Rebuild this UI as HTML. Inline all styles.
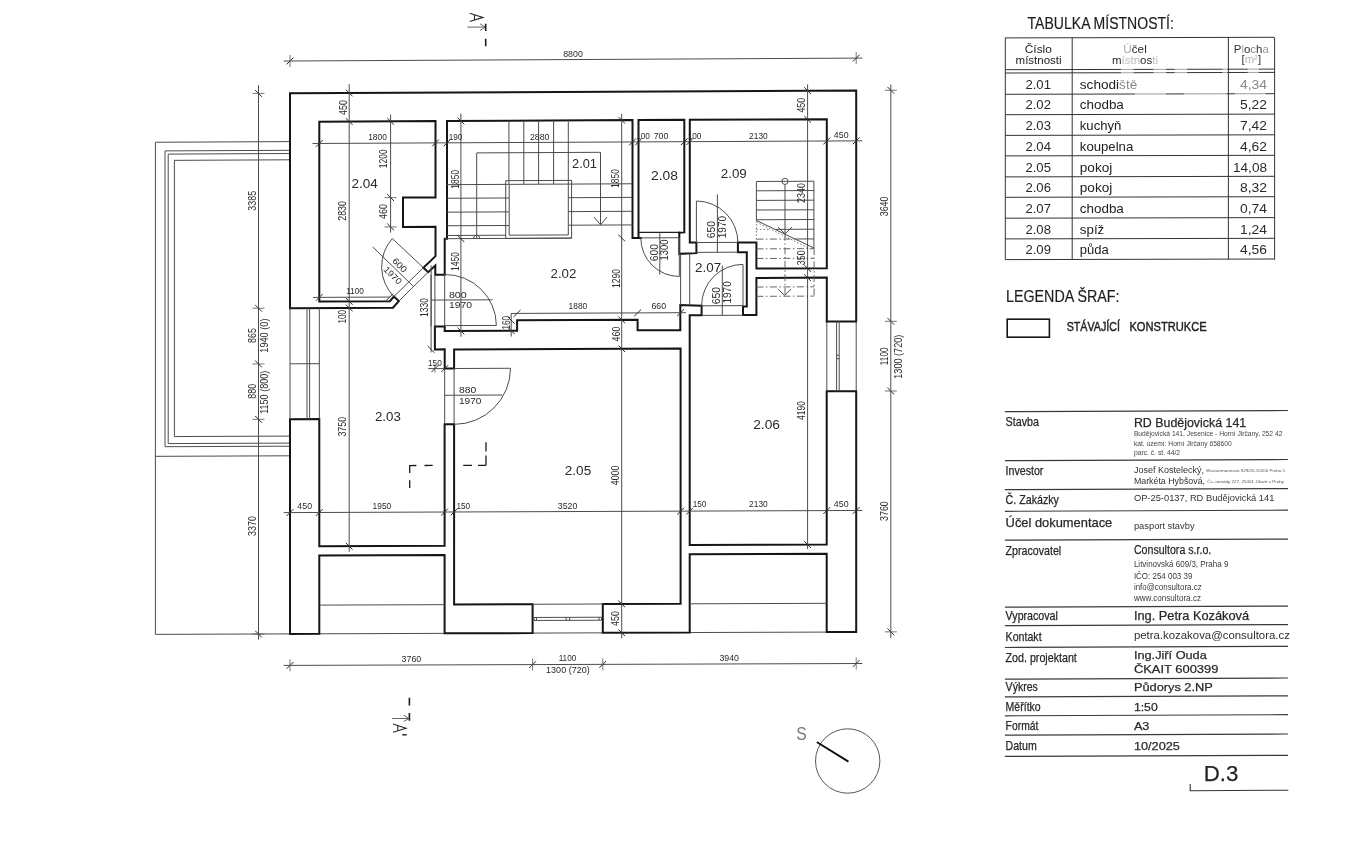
<!DOCTYPE html>
<html><head><meta charset="utf-8"><title>Půdorys 2.NP</title>
<style>
html,body{margin:0;padding:0;background:#fff;}
body{width:1352px;height:850px;overflow:hidden;font-family:"Liberation Sans",sans-serif;}
svg{display:block;filter:grayscale(1);}
svg text{font-family:"Liberation Sans",sans-serif;}
</style></head><body>
<svg width="1352" height="850" viewBox="0 0 1352 850">
<rect x="0" y="0" width="1352" height="850" fill="#ffffff"/>
<g id="plan">
<path d="M290 141.6 L155.4 142.25 L155.4 634.36 L290 633.9" stroke="#4c4c4c" stroke-width="1" fill="none"/>
<path d="M155.4 456.33 L290 455.8" stroke="#4c4c4c" stroke-width="1" fill="none"/>
<path d="M290 150.3 L165 150.9 L165 446.69 L290 446.2" stroke="#4c4c4c" stroke-width="1" fill="none"/>
<path d="M290 153.5 L168.2 154.09 L168.2 443.58 L290 443.1" stroke="#4c4c4c" stroke-width="1" fill="none"/>
<path d="M290 159.8 L174.4 160.35 L174.4 436.56 L290 436.1" stroke="#4c4c4c" stroke-width="1" fill="none"/>
<path d="M319.3 633.8 L444.6 633.37" stroke="#4c4c4c" stroke-width="1" fill="none"/>
<path d="M532.6 633.08 L602.8 632.84" stroke="#4c4c4c" stroke-width="1" fill="none"/>
<path d="M689.7 632.54 L826.7 632.08" stroke="#4c4c4c" stroke-width="1" fill="none"/>
<path d="M290 308.2 L290 93.25 L856.2 90.42 L856.2 321.46 L826.8 321.58" stroke="#151515" stroke-width="2" fill="none" stroke-linejoin="miter" stroke-linecap="square"/>
<path d="M290 308.2 L393 307.75 L398.8 301.12 L393.9 296.54 L389.9 301.16 L319.3 301.47 L319.3 121.66 L435.5 121.09 L435.5 197.42 L403 197.57 L403 226.88 L435.5 226.73 L435.5 256.14 L423.4 267.7 L428.2 272.18 L435.3 265.55 L435.3 274.75 L444.7 274.71 L444.7 238.79 L447 238.78 L447 121.03 L632.5 120.12 L632.5 237.94 L640.8 237.9" stroke="#151515" stroke-width="2" fill="none" stroke-linejoin="miter" stroke-linecap="square"/>
<path d="M638.5 237.91 L638.5 120.09 L684.3 119.86 L684.3 232.39 L679.3 232.62" stroke="#151515" stroke-width="2" fill="none" stroke-linejoin="miter" stroke-linecap="square"/>
<path d="M638.5 232.4 L679.3 232.42" stroke="#222" stroke-width="1.2" fill="none"/>
<path d="M679.3 232.82 L679.3 253.84 L696.4 253.16 L696.4 242.55 L689.8 242.58 L689.8 119.84 L826.8 119.16 L826.8 268.3 L756.4 268.61 L756.4 242.48 L737.9 242.56 L737.9 252.28 L746.8 252.24 L746.8 306.51 L743 306.53 L743 314.94 L756.4 314.88 L756.4 277.93 L826.8 277.61 L826.8 321.58" stroke="#151515" stroke-width="2" fill="none" stroke-linejoin="miter" stroke-linecap="square"/>
<path d="M434.9 326.48 L444.7 326.43 L444.7 331.04 L517.1 330.73 L517.1 320.32 L637.6 319.8 L637.6 330.31 L680.3 330.13 L680.3 305 L701.6 305.8 L701.6 315.22 L689.7 315.27 L689.7 544.94 L826.7 544.44 L826.7 391.3 L856.2 391.17 L856.2 631.98 L826.7 632.08 L826.7 553.65 L689.7 554.15 L689.7 632.54 L602.8 632.84 L602.8 604.01 L680.6 603.74 L680.6 348.45 L454.1 349.4 L454.1 368.51 L444.7 368.55 L444.7 349.34 L434.9 349.39 L434.9 326.48" stroke="#151515" stroke-width="2" fill="none" stroke-linejoin="miter" stroke-linecap="square"/>
<path d="M290 419.2 L319.3 419.08 L319.3 546.29 L444.6 545.83 L444.6 424.18 L454.1 424.14 L454.1 604.53 L532.6 604.26 L532.6 633.08 L444.6 633.37 L444.6 555.04 L319.3 555.49 L319.3 633.8 L290 633.9 L290 419.2" stroke="#151515" stroke-width="2" fill="none" stroke-linejoin="miter" stroke-linecap="square"/>
<path d="M290 308.2 L290 419.2" stroke="#4c4c4c" stroke-width="1" fill="none"/>
<path d="M307 308.13 L307 419.13" stroke="#4c4c4c" stroke-width="1" fill="none"/>
<path d="M309.6 308.11 L309.6 419.12" stroke="#4c4c4c" stroke-width="1" fill="none"/>
<path d="M319.3 308.07 L319.3 419.08" stroke="#4c4c4c" stroke-width="1" fill="none"/>
<path d="M290 363.8 L319.3 363.68" stroke="#4c4c4c" stroke-width="1" fill="none"/>
<path d="M826.8 321.58 L826.8 391.29" stroke="#4c4c4c" stroke-width="1" fill="none"/>
<path d="M836.6 321.54 L836.6 391.25" stroke="#4c4c4c" stroke-width="1" fill="none"/>
<path d="M839.2 321.53 L839.2 391.24" stroke="#4c4c4c" stroke-width="1" fill="none"/>
<path d="M856.2 321.46 L856.2 391.17" stroke="#4c4c4c" stroke-width="1" fill="none"/>
<path d="M836.6 355.2 L839.2 355.19" stroke="#4c4c4c" stroke-width="1" fill="none"/>
<path d="M836.6 358.7 L839.2 358.69" stroke="#4c4c4c" stroke-width="1" fill="none"/>
<path d="M532.6 604.26 L602.8 604.01" stroke="#4c4c4c" stroke-width="1" fill="none"/>
<path d="M534 617.46 L601.5 617.23" stroke="#4c4c4c" stroke-width="1" fill="none"/>
<path d="M534 620.46 L601.5 620.23" stroke="#4c4c4c" stroke-width="1" fill="none"/>
<path d="M534 617.46 L534 620.46" stroke="#4c4c4c" stroke-width="1" fill="none"/>
<path d="M601.5 617.23 L601.5 620.23" stroke="#4c4c4c" stroke-width="1" fill="none"/>
<path d="M566.2 617.35 L566.2 620.35" stroke="#4c4c4c" stroke-width="1" fill="none"/>
<path d="M569.6 617.34 L569.6 620.34" stroke="#4c4c4c" stroke-width="1" fill="none"/>
<path d="M536.5 617.45 L536.5 620.45" stroke="#4c4c4c" stroke-width="1" fill="none"/>
<path d="M599 617.24 L599 620.24" stroke="#4c4c4c" stroke-width="1" fill="none"/>
<path d="M319.3 605.1 L444.6 604.66" stroke="#4c4c4c" stroke-width="1" fill="none"/>
<path d="M689.7 603.81 L826.7 603.33" stroke="#4c4c4c" stroke-width="1" fill="none"/>
<path d="M508.9 120.72 L508.9 184.37" stroke="#4c4c4c" stroke-width="1" fill="none"/>
<path d="M523.8 120.65 L523.8 184.3" stroke="#4c4c4c" stroke-width="1" fill="none"/>
<path d="M538.6 120.58 L538.6 184.23" stroke="#4c4c4c" stroke-width="1" fill="none"/>
<path d="M553.6 120.51 L553.6 184.15" stroke="#4c4c4c" stroke-width="1" fill="none"/>
<path d="M568.3 120.43 L568.3 184.09" stroke="#4c4c4c" stroke-width="1" fill="none"/>
<path d="M447 184.66 L508.9 184.37" stroke="#4c4c4c" stroke-width="1" fill="none"/>
<path d="M568.3 184.09 L632.5 183.78" stroke="#4c4c4c" stroke-width="1" fill="none"/>
<path d="M447 198.26 L508.9 197.97" stroke="#4c4c4c" stroke-width="1" fill="none"/>
<path d="M568.3 197.7 L632.5 197.4" stroke="#4c4c4c" stroke-width="1" fill="none"/>
<path d="M447 212.17 L508.9 211.88" stroke="#4c4c4c" stroke-width="1" fill="none"/>
<path d="M568.3 211.61 L632.5 211.31" stroke="#4c4c4c" stroke-width="1" fill="none"/>
<path d="M447 225.78 L508.9 225.49" stroke="#4c4c4c" stroke-width="1" fill="none"/>
<path d="M568.3 225.22 L632.5 224.92" stroke="#4c4c4c" stroke-width="1" fill="none"/>
<path d="M447 235.48 L505.7 235.21" stroke="#4c4c4c" stroke-width="1" fill="none"/>
<path d="M444.7 238.69 L571.6 238.11" stroke="#4c4c4c" stroke-width="1" fill="none"/>
<path d="M505.7 180.68 L571.6 180.37 L571.6 238.11 L505.7 238.42 Z" stroke="#4c4c4c" stroke-width="1" fill="none"/>
<path d="M509.2 184.36 L568.3 184.09 L568.3 234.93 L509.2 235.2 Z" stroke="#4c4c4c" stroke-width="1" fill="none"/>
<path d="M476.7 238.55 L476.7 152.9 L600.5 152.3 L600.5 224.57" stroke="#4c4c4c" stroke-width="1" fill="none"/>
<path d="M594 217.09 L600.5 224.87 L607 217.03" stroke="#4c4c4c" stroke-width="1" fill="none"/>
<path d="M473.3 238.36 L474.8 235.55 L478.6 235.54 L480 238.33" stroke="#4c4c4c" stroke-width="1" fill="none"/>
<path d="M756.4 181.49 L813.9 181.22" stroke="#4c4c4c" stroke-width="1" fill="none"/>
<path d="M756.4 190.81 L813.9 190.54" stroke="#4c4c4c" stroke-width="1" fill="none"/>
<path d="M756.4 200.42 L813.9 200.15" stroke="#4c4c4c" stroke-width="1" fill="none"/>
<path d="M756.4 210.03 L813.9 209.77" stroke="#4c4c4c" stroke-width="1" fill="none"/>
<path d="M756.4 219.75 L813.9 219.48" stroke="#4c4c4c" stroke-width="1" fill="none"/>
<path d="M756.4 181.49 L756.4 220.45" stroke="#4c4c4c" stroke-width="1" fill="none"/>
<path d="M813.9 181.22 L813.9 248.03" stroke="#4c4c4c" stroke-width="1" fill="none"/>
<path d="M756.4 220.45 L813.9 248.03" stroke="#4c4c4c" stroke-width="1" fill="none"/>
<path d="M775.5 229.37 L813.9 229.2" stroke="#4c4c4c" stroke-width="1" fill="none"/>
<path d="M795.3 239 L813.9 238.91" stroke="#4c4c4c" stroke-width="1" fill="none"/>
<path d="M756.4 229.46 L770 229.4" stroke="#666" stroke-width="0.9" fill="none" stroke-dasharray="1.5 2"/>
<path d="M756.4 239.17 L795 239" stroke="#555" stroke-width="0.9" fill="none" stroke-dasharray="7 2.5 1.5 2.5"/>
<path d="M756.4 248.89 L813.9 248.63" stroke="#555" stroke-width="0.9" fill="none" stroke-dasharray="7 2.5 1.5 2.5"/>
<path d="M756.4 258.5 L813.9 258.24" stroke="#555" stroke-width="0.9" fill="none" stroke-dasharray="7 2.5 1.5 2.5"/>
<path d="M756.4 287.04 L814.1 286.79" stroke="#555" stroke-width="0.9" fill="none" stroke-dasharray="7 2.5 1.5 2.5"/>
<path d="M756.4 296.35 L814.1 296.1" stroke="#555" stroke-width="0.9" fill="none" stroke-dasharray="7 2.5 1.5 2.5"/>
<path d="M756.4 220.45 L756.4 242.48" stroke="#666" stroke-width="0.9" fill="none" stroke-dasharray="1.5 2"/>
<path d="M756.4 222.05 L812 249.84" stroke="#666" stroke-width="0.9" fill="none" stroke-dasharray="1.5 2"/>
<path d="M814.1 248.03 L814.1 296.1" stroke="#555" stroke-width="0.9" fill="none" stroke-dasharray="7 2.5 1.5 2.5"/>
<circle cx="785" cy="181.36" r="3.1" stroke="#444" stroke-width="0.9" fill="none"/>
<path d="M785 184.46 L785 233.24" stroke="#4c4c4c" stroke-width="1" fill="none"/>
<path d="M785 233.74 L785 295.23" stroke="#555" stroke-width="0.9" fill="none" stroke-dasharray="7 2.5 1.5 2.5"/>
<path d="M778 227.06 L785 233.94 L792 226.99" stroke="#4c4c4c" stroke-width="1" fill="none"/>
<path d="M778.2 289.25 L784.6 295.43 L791.1 289.19" stroke="#4c4c4c" stroke-width="1" fill="none"/>
<path d="M393.9 296.54 L423.4 267.7" stroke="#4c4c4c" stroke-width="1" fill="none"/>
<path d="M398.8 301.12 L428.2 272.18" stroke="#4c4c4c" stroke-width="1" fill="none"/>
<path d="M423.4 267.7 L392.3 238.53" stroke="#4c4c4c" stroke-width="1" fill="none"/>
<path d="M392.3 238.53 A42.5 42.5 0 0 0 393.9 296.54" stroke="#4c4c4c" stroke-width="1" fill="none"/>
<path d="M372.6 246.82 L413 286.06" stroke="#4c4c4c" stroke-width="1" fill="none"/>
<text transform="translate(397.5 267.4) rotate(45)" text-anchor="middle" font-size="8.9" fill="#2a2a2a" textLength="16.5" lengthAdjust="spacingAndGlyphs">600</text>
<text transform="translate(390.6 277.5) rotate(45)" text-anchor="middle" font-size="8.9" fill="#2a2a2a" textLength="21.5" lengthAdjust="spacingAndGlyphs">1970</text>
<path d="M431.1 274.77 L431.1 326.49" stroke="#4c4c4c" stroke-width="1" fill="none"/>
<path d="M434.9 274.75 L434.9 326.48" stroke="#4c4c4c" stroke-width="1" fill="none"/>
<path d="M444.7 274.71 L444.7 326.43" stroke="#4c4c4c" stroke-width="1" fill="none"/>
<path d="M444.7 325.63 L496.4 325.41" stroke="#4c4c4c" stroke-width="1" fill="none"/>
<path d="M444.7 274.51 A51.3 51.3 0 0 1 496.4 325.41" stroke="#4c4c4c" stroke-width="1" fill="none"/>
<path d="M431.1 300.08 L492.6 299.81" stroke="#4c4c4c" stroke-width="1" fill="none"/>
<text x="448.9" y="297.5" font-size="8.9" fill="#2a2a2a" textLength="17.8" lengthAdjust="spacingAndGlyphs">800</text>
<text x="448.9" y="307.9" font-size="8.9" fill="#2a2a2a" textLength="23" lengthAdjust="spacingAndGlyphs">1970</text>
<path d="M444.7 368.55 L444.7 424.18" stroke="#4c4c4c" stroke-width="1" fill="none"/>
<path d="M454.1 368.51 L454.1 424.14" stroke="#4c4c4c" stroke-width="1" fill="none"/>
<path d="M454.1 368.51 L510.5 368.28" stroke="#4c4c4c" stroke-width="1" fill="none"/>
<path d="M510.5 368.28 A56.2 56.2 0 0 1 454.1 424.34" stroke="#4c4c4c" stroke-width="1" fill="none"/>
<path d="M444.7 395.27 L502.3 395.03" stroke="#4c4c4c" stroke-width="1" fill="none"/>
<text x="458.9" y="393.1" font-size="8.9" fill="#2a2a2a" textLength="17.3" lengthAdjust="spacingAndGlyphs">880</text>
<text x="458.9" y="403.8" font-size="8.9" fill="#2a2a2a" textLength="22.5" lengthAdjust="spacingAndGlyphs">1970</text>
<path d="M640.8 237.9 L679.3 237.72" stroke="#4c4c4c" stroke-width="1" fill="none"/>
<path d="M679.3 237.72 L679.3 276.27" stroke="#4c4c4c" stroke-width="1" fill="none"/>
<path d="M640.8 238.2 A38.5 38.5 0 0 0 679.3 276.47" stroke="#4c4c4c" stroke-width="1" fill="none"/>
<path d="M659.8 233.11 L659.8 274.55" stroke="#4c4c4c" stroke-width="1" fill="none"/>
<text transform="translate(657.8 252.7) rotate(-90)" text-anchor="middle" font-size="10.4" fill="#2a2a2a" textLength="17.3" lengthAdjust="spacingAndGlyphs">600</text>
<text transform="translate(668.3 250) rotate(-90)" text-anchor="middle" font-size="10.4" fill="#2a2a2a" textLength="21" lengthAdjust="spacingAndGlyphs">1300</text>
<path d="M696.4 242.55 L737.9 242.36" stroke="#4c4c4c" stroke-width="1" fill="none"/>
<path d="M696.4 252.36 L737.9 252.18" stroke="#4c4c4c" stroke-width="1" fill="none"/>
<path d="M696.4 201 L696.4 242.55" stroke="#4c4c4c" stroke-width="1" fill="none"/>
<path d="M696.4 201 A41.5 41.5 0 0 1 737.9 242.36" stroke="#4c4c4c" stroke-width="1" fill="none"/>
<path d="M717.4 194.39 L717.4 252.27" stroke="#4c4c4c" stroke-width="1" fill="none"/>
<text transform="translate(715.1 229.7) rotate(-90)" text-anchor="middle" font-size="10.4" fill="#2a2a2a" textLength="17.3" lengthAdjust="spacingAndGlyphs">650</text>
<text transform="translate(725.8 227.1) rotate(-90)" text-anchor="middle" font-size="10.4" fill="#2a2a2a" textLength="22.3" lengthAdjust="spacingAndGlyphs">1970</text>
<path d="M680.6 253.84 L680.6 305" stroke="#4c4c4c" stroke-width="1" fill="none"/>
<path d="M689.7 253.19 L689.7 305.26" stroke="#4c4c4c" stroke-width="1" fill="none"/>
<path d="M701.6 305.8 L743 305.62" stroke="#4c4c4c" stroke-width="1" fill="none"/>
<path d="M701.6 315.42 L743 315.24" stroke="#4c4c4c" stroke-width="1" fill="none"/>
<path d="M743 264.37 L743 305.62" stroke="#4c4c4c" stroke-width="1" fill="none"/>
<path d="M743 264.37 A41.4 41.4 0 0 0 701.6 305.8" stroke="#4c4c4c" stroke-width="1" fill="none"/>
<path d="M722.3 265.66 L722.3 315.33" stroke="#4c4c4c" stroke-width="1" fill="none"/>
<text transform="translate(720.2 295.6) rotate(-90)" text-anchor="middle" font-size="10.4" fill="#2a2a2a" textLength="17.3" lengthAdjust="spacingAndGlyphs">650</text>
<text transform="translate(731.3 292.4) rotate(-90)" text-anchor="middle" font-size="10.4" fill="#2a2a2a" textLength="22.3" lengthAdjust="spacingAndGlyphs">1970</text>
<path d="M409.7 465.53 L416.4 465.51" stroke="#1a1a1a" stroke-width="1.3" fill="none"/>
<path d="M424.5 465.48 L432.7 465.44" stroke="#1a1a1a" stroke-width="1.3" fill="none"/>
<path d="M409.7 464.93 L409.7 472.94" stroke="#1a1a1a" stroke-width="1.3" fill="none"/>
<path d="M409.7 480.34 L409.7 488.04" stroke="#1a1a1a" stroke-width="1.3" fill="none"/>
<path d="M478 465.37 L486 465.34" stroke="#1a1a1a" stroke-width="1.3" fill="none"/>
<path d="M463.2 465.43 L472 465.39" stroke="#1a1a1a" stroke-width="1.3" fill="none"/>
<path d="M486 455.43 L486 465.34" stroke="#1a1a1a" stroke-width="1.3" fill="none"/>
<path d="M486 442.22 L486 451.43" stroke="#1a1a1a" stroke-width="1.3" fill="none"/>
<path d="M283.7 61.03 L862.3 58.09" stroke="#4c4c4c" stroke-width="1" fill="none"/>
<path d="M286.6 64.4 L293.4 57.6" stroke="#2a2a2a" stroke-width="1" fill="none"/>
<path d="M290 55 L290 67" stroke="#555" stroke-width="0.8" fill="none"/>
<path d="M852.8 61.52 L859.6 54.72" stroke="#2a2a2a" stroke-width="1" fill="none"/>
<path d="M856.2 52.12 L856.2 64.12" stroke="#555" stroke-width="0.8" fill="none"/>
<path d="M312.5 143.49 L862.3 140.83" stroke="#4c4c4c" stroke-width="1" fill="none"/>
<path d="M315.9 146.86 L322.7 140.06" stroke="#2a2a2a" stroke-width="1" fill="none"/>
<path d="M432.1 146.29 L438.9 139.49" stroke="#2a2a2a" stroke-width="1" fill="none"/>
<path d="M443.6 146.24 L450.4 139.44" stroke="#2a2a2a" stroke-width="1" fill="none"/>
<path d="M629.1 145.34 L635.9 138.54" stroke="#2a2a2a" stroke-width="1" fill="none"/>
<path d="M635.1 145.31 L641.9 138.51" stroke="#2a2a2a" stroke-width="1" fill="none"/>
<path d="M680.9 145.09 L687.7 138.29" stroke="#2a2a2a" stroke-width="1" fill="none"/>
<path d="M686.4 145.06 L693.2 138.26" stroke="#2a2a2a" stroke-width="1" fill="none"/>
<path d="M823.4 144.4 L830.2 137.6" stroke="#2a2a2a" stroke-width="1" fill="none"/>
<path d="M852.8 144.26 L859.6 137.46" stroke="#2a2a2a" stroke-width="1" fill="none"/>
<path d="M283.7 512.62 L862.3 510.45" stroke="#4c4c4c" stroke-width="1" fill="none"/>
<path d="M286.6 516 L293.4 509.2" stroke="#2a2a2a" stroke-width="1" fill="none"/>
<path d="M315.9 515.89 L322.7 509.09" stroke="#2a2a2a" stroke-width="1" fill="none"/>
<path d="M441.2 515.42 L448 508.62" stroke="#2a2a2a" stroke-width="1" fill="none"/>
<path d="M450.7 515.38 L457.5 508.58" stroke="#2a2a2a" stroke-width="1" fill="none"/>
<path d="M677.2 514.53 L684 507.73" stroke="#2a2a2a" stroke-width="1" fill="none"/>
<path d="M686.3 514.5 L693.1 507.7" stroke="#2a2a2a" stroke-width="1" fill="none"/>
<path d="M823.3 513.98 L830.1 507.18" stroke="#2a2a2a" stroke-width="1" fill="none"/>
<path d="M852.8 513.87 L859.6 507.07" stroke="#2a2a2a" stroke-width="1" fill="none"/>
<path d="M283.7 665.42 L862.3 663.51" stroke="#4c4c4c" stroke-width="1" fill="none"/>
<path d="M286.6 668.8 L293.4 662" stroke="#2a2a2a" stroke-width="1" fill="none"/>
<path d="M290 659.4 L290 671.4" stroke="#555" stroke-width="0.8" fill="none"/>
<path d="M529.2 668 L536 661.2" stroke="#2a2a2a" stroke-width="1" fill="none"/>
<path d="M532.6 658.6 L532.6 670.6" stroke="#555" stroke-width="0.8" fill="none"/>
<path d="M599.4 667.77 L606.2 660.97" stroke="#2a2a2a" stroke-width="1" fill="none"/>
<path d="M602.8 658.37 L602.8 670.37" stroke="#555" stroke-width="0.8" fill="none"/>
<path d="M852.8 666.93 L859.6 660.13" stroke="#2a2a2a" stroke-width="1" fill="none"/>
<path d="M856.2 657.53 L856.2 669.53" stroke="#555" stroke-width="0.8" fill="none"/>
<path d="M313 297.4 L389.5 297.06" stroke="#4c4c4c" stroke-width="1" fill="none"/>
<path d="M315.9 300.77 L322.7 293.97" stroke="#2a2a2a" stroke-width="1" fill="none"/>
<path d="M386.3 300.46 L393.1 293.66" stroke="#2a2a2a" stroke-width="1" fill="none"/>
<path d="M511.2 313.44 L686 312.68" stroke="#4c4c4c" stroke-width="1" fill="none"/>
<path d="M513.7 316.81 L520.5 310.01" stroke="#2a2a2a" stroke-width="1" fill="none"/>
<path d="M634.2 316.29 L641 309.49" stroke="#2a2a2a" stroke-width="1" fill="none"/>
<path d="M677.2 316.1 L684 309.3" stroke="#2a2a2a" stroke-width="1" fill="none"/>
<path d="M428.2 368.62 L444.7 368.55" stroke="#4c4c4c" stroke-width="1" fill="none"/>
<path d="M431.5 371.99 L438.3 365.19" stroke="#2a2a2a" stroke-width="1" fill="none"/>
<path d="M434.9 364.59 L434.9 372.59" stroke="#555" stroke-width="0.8" fill="none"/>
<path d="M441.3 371.95 L448.1 365.15" stroke="#2a2a2a" stroke-width="1" fill="none"/>
<path d="M258.5 85.16 L258.5 639.61" stroke="#4c4c4c" stroke-width="1" fill="none"/>
<path d="M255.1 90.01 L261.9 96.81" stroke="#2a2a2a" stroke-width="1" fill="none"/>
<path d="M252.5 93.41 L264.5 93.41" stroke="#555" stroke-width="0.8" fill="none"/>
<path d="M255.1 304.84 L261.9 311.64" stroke="#2a2a2a" stroke-width="1" fill="none"/>
<path d="M252.5 308.24 L264.5 308.24" stroke="#555" stroke-width="0.8" fill="none"/>
<path d="M255.1 360.53 L261.9 367.33" stroke="#2a2a2a" stroke-width="1" fill="none"/>
<path d="M252.5 363.93 L264.5 363.93" stroke="#555" stroke-width="0.8" fill="none"/>
<path d="M255.1 415.93 L261.9 422.73" stroke="#2a2a2a" stroke-width="1" fill="none"/>
<path d="M252.5 419.33 L264.5 419.33" stroke="#555" stroke-width="0.8" fill="none"/>
<path d="M255.1 630.61 L261.9 637.41" stroke="#2a2a2a" stroke-width="1" fill="none"/>
<path d="M252.5 634.01 L264.5 634.01" stroke="#555" stroke-width="0.8" fill="none"/>
<path d="M349.2 84.2 L349.2 551.78" stroke="#4c4c4c" stroke-width="1" fill="none"/>
<path d="M345.8 89.55 L352.6 96.35" stroke="#2a2a2a" stroke-width="1" fill="none"/>
<path d="M345.8 118.11 L352.6 124.91" stroke="#2a2a2a" stroke-width="1" fill="none"/>
<path d="M345.8 297.94 L352.6 304.74" stroke="#2a2a2a" stroke-width="1" fill="none"/>
<path d="M345.8 304.54 L352.6 311.34" stroke="#2a2a2a" stroke-width="1" fill="none"/>
<path d="M345.8 542.78 L352.6 549.58" stroke="#2a2a2a" stroke-width="1" fill="none"/>
<path d="M390.6 114.5 L390.6 232.54" stroke="#4c4c4c" stroke-width="1" fill="none"/>
<path d="M387.2 117.91 L394 124.71" stroke="#2a2a2a" stroke-width="1" fill="none"/>
<path d="M387.2 194.23 L394 201.03" stroke="#2a2a2a" stroke-width="1" fill="none"/>
<path d="M384.6 197.63 L396.6 197.63" stroke="#555" stroke-width="0.8" fill="none"/>
<path d="M387.2 223.54 L394 230.34" stroke="#2a2a2a" stroke-width="1" fill="none"/>
<path d="M384.6 226.94 L396.6 226.94" stroke="#555" stroke-width="0.8" fill="none"/>
<path d="M460.9 113.66 L460.9 336.77" stroke="#4c4c4c" stroke-width="1" fill="none"/>
<path d="M457.5 117.56 L464.3 124.36" stroke="#2a2a2a" stroke-width="1" fill="none"/>
<path d="M457.5 235.32 L464.3 242.12" stroke="#2a2a2a" stroke-width="1" fill="none"/>
<path d="M457.5 327.57 L464.3 334.37" stroke="#2a2a2a" stroke-width="1" fill="none"/>
<path d="M621.7 113.86 L621.7 638.38" stroke="#4c4c4c" stroke-width="1" fill="none"/>
<path d="M618.3 116.77 L625.1 123.57" stroke="#2a2a2a" stroke-width="1" fill="none"/>
<path d="M618.3 234.59 L625.1 241.39" stroke="#2a2a2a" stroke-width="1" fill="none"/>
<path d="M618.3 316.47 L625.1 323.27" stroke="#2a2a2a" stroke-width="1" fill="none"/>
<path d="M618.3 345.29 L625.1 352.09" stroke="#2a2a2a" stroke-width="1" fill="none"/>
<path d="M618.3 600.54 L625.1 607.34" stroke="#2a2a2a" stroke-width="1" fill="none"/>
<path d="M618.3 629.37 L625.1 636.17" stroke="#2a2a2a" stroke-width="1" fill="none"/>
<path d="M807.6 84.4 L807.6 549.11" stroke="#4c4c4c" stroke-width="1" fill="none"/>
<path d="M804.2 87.26 L811 94.06" stroke="#2a2a2a" stroke-width="1" fill="none"/>
<path d="M804.2 115.86 L811 122.66" stroke="#2a2a2a" stroke-width="1" fill="none"/>
<path d="M804.2 264.99 L811 271.79" stroke="#2a2a2a" stroke-width="1" fill="none"/>
<path d="M804.2 274.3 L811 281.1" stroke="#2a2a2a" stroke-width="1" fill="none"/>
<path d="M804.2 541.11 L811 547.91" stroke="#2a2a2a" stroke-width="1" fill="none"/>
<path d="M890.8 84.49 L890.8 637.97" stroke="#4c4c4c" stroke-width="1" fill="none"/>
<path d="M887.4 86.85 L894.2 93.65" stroke="#2a2a2a" stroke-width="1" fill="none"/>
<path d="M884.8 90.25 L896.8 90.25" stroke="#555" stroke-width="0.8" fill="none"/>
<path d="M887.4 317.91 L894.2 324.71" stroke="#2a2a2a" stroke-width="1" fill="none"/>
<path d="M884.8 321.31 L896.8 321.31" stroke="#555" stroke-width="0.8" fill="none"/>
<path d="M887.4 387.63 L894.2 394.43" stroke="#2a2a2a" stroke-width="1" fill="none"/>
<path d="M884.8 391.03 L896.8 391.03" stroke="#555" stroke-width="0.8" fill="none"/>
<path d="M887.4 628.46 L894.2 635.26" stroke="#2a2a2a" stroke-width="1" fill="none"/>
<path d="M884.8 631.86 L896.8 631.86" stroke="#555" stroke-width="0.8" fill="none"/>
<path d="M431.1 265.37 L431.1 352.4" stroke="#4c4c4c" stroke-width="1" fill="none"/>
<path d="M427.7 346 L434.5 352.8" stroke="#2a2a2a" stroke-width="1" fill="none"/>
<path d="M511.2 313.44 L511.2 336.55" stroke="#4c4c4c" stroke-width="1" fill="none"/>
<path d="M507.8 316.94 L514.6 323.74" stroke="#2a2a2a" stroke-width="1" fill="none"/>
<path d="M507.8 327.35 L514.6 334.15" stroke="#2a2a2a" stroke-width="1" fill="none"/>
<text x="573" y="57.1" text-anchor="middle" font-size="9" fill="#2a2a2a" textLength="19.6" lengthAdjust="spacingAndGlyphs">8800</text>
<text x="377.5" y="140.4" text-anchor="middle" font-size="9" fill="#2a2a2a" textLength="18.62" lengthAdjust="spacingAndGlyphs">1800</text>
<text x="455.6" y="140.2" text-anchor="middle" font-size="9" fill="#2a2a2a" textLength="13.72" lengthAdjust="spacingAndGlyphs">190</text>
<text x="539.7" y="139.7" text-anchor="middle" font-size="9" fill="#2a2a2a" textLength="19.6" lengthAdjust="spacingAndGlyphs">2880</text>
<text x="643" y="139" text-anchor="middle" font-size="9" fill="#2a2a2a" textLength="13.72" lengthAdjust="spacingAndGlyphs">100</text>
<text x="661" y="139" text-anchor="middle" font-size="9" fill="#2a2a2a" textLength="14.7" lengthAdjust="spacingAndGlyphs">700</text>
<text x="694.5" y="138.9" text-anchor="middle" font-size="9" fill="#2a2a2a" textLength="13.72" lengthAdjust="spacingAndGlyphs">100</text>
<text x="758.4" y="138.6" text-anchor="middle" font-size="9" fill="#2a2a2a" textLength="18.62" lengthAdjust="spacingAndGlyphs">2130</text>
<text x="841.2" y="137.8" text-anchor="middle" font-size="9" fill="#2a2a2a" textLength="14.7" lengthAdjust="spacingAndGlyphs">450</text>
<text x="355" y="294.2" text-anchor="middle" font-size="9" fill="#2a2a2a" textLength="17.64" lengthAdjust="spacingAndGlyphs">1100</text>
<text x="577.9" y="309.3" text-anchor="middle" font-size="9" fill="#2a2a2a" textLength="18.62" lengthAdjust="spacingAndGlyphs">1880</text>
<text x="658.8" y="308.6" text-anchor="middle" font-size="9" fill="#2a2a2a" textLength="14.7" lengthAdjust="spacingAndGlyphs">660</text>
<text x="434.9" y="365.6" text-anchor="middle" font-size="9" fill="#2a2a2a" textLength="13.72" lengthAdjust="spacingAndGlyphs">150</text>
<text x="304.7" y="509.4" text-anchor="middle" font-size="9" fill="#2a2a2a" textLength="14.7" lengthAdjust="spacingAndGlyphs">450</text>
<text x="381.9" y="509.4" text-anchor="middle" font-size="9" fill="#2a2a2a" textLength="18.62" lengthAdjust="spacingAndGlyphs">1950</text>
<text x="463.3" y="509.2" text-anchor="middle" font-size="9" fill="#2a2a2a" textLength="13.72" lengthAdjust="spacingAndGlyphs">150</text>
<text x="567.6" y="508.8" text-anchor="middle" font-size="9" fill="#2a2a2a" textLength="19.6" lengthAdjust="spacingAndGlyphs">3520</text>
<text x="699.6" y="507.4" text-anchor="middle" font-size="9" fill="#2a2a2a" textLength="13.72" lengthAdjust="spacingAndGlyphs">150</text>
<text x="758.4" y="507.2" text-anchor="middle" font-size="9" fill="#2a2a2a" textLength="18.62" lengthAdjust="spacingAndGlyphs">2130</text>
<text x="841.2" y="507.4" text-anchor="middle" font-size="9" fill="#2a2a2a" textLength="14.7" lengthAdjust="spacingAndGlyphs">450</text>
<text x="411.4" y="662.2" text-anchor="middle" font-size="9" fill="#2a2a2a" textLength="19.6" lengthAdjust="spacingAndGlyphs">3760</text>
<text x="567.5" y="661.2" text-anchor="middle" font-size="9" fill="#2a2a2a" textLength="17.64" lengthAdjust="spacingAndGlyphs">1100</text>
<text x="567.9" y="672.6" text-anchor="middle" font-size="9" fill="#2a2a2a" textLength="43.61" lengthAdjust="spacingAndGlyphs">1300 (720)</text>
<text x="729.2" y="660.8" text-anchor="middle" font-size="9" fill="#2a2a2a" textLength="19.6" lengthAdjust="spacingAndGlyphs">3940</text>
<text transform="translate(255.9 200.8) rotate(-90)" text-anchor="middle" font-size="10.1" fill="#2a2a2a" textLength="19.8" lengthAdjust="spacingAndGlyphs">3385</text>
<text transform="translate(255.5 335.6) rotate(-90)" text-anchor="middle" font-size="10.1" fill="#2a2a2a" textLength="14.85" lengthAdjust="spacingAndGlyphs">865</text>
<text transform="translate(267.5 335.6) rotate(-90)" text-anchor="middle" font-size="10.1" fill="#2a2a2a" textLength="34.16" lengthAdjust="spacingAndGlyphs">1940 (0)</text>
<text transform="translate(255.5 391.3) rotate(-90)" text-anchor="middle" font-size="10.1" fill="#2a2a2a" textLength="14.85" lengthAdjust="spacingAndGlyphs">880</text>
<text transform="translate(267.5 392.3) rotate(-90)" text-anchor="middle" font-size="10.1" fill="#2a2a2a" textLength="43.06" lengthAdjust="spacingAndGlyphs">1150 (800)</text>
<text transform="translate(256 526) rotate(-90)" text-anchor="middle" font-size="10.1" fill="#2a2a2a" textLength="19.8" lengthAdjust="spacingAndGlyphs">3370</text>
<text transform="translate(346.5 107.5) rotate(-90)" text-anchor="middle" font-size="10.1" fill="#2a2a2a" textLength="14.85" lengthAdjust="spacingAndGlyphs">450</text>
<text transform="translate(346 210.9) rotate(-90)" text-anchor="middle" font-size="10.1" fill="#2a2a2a" textLength="19.8" lengthAdjust="spacingAndGlyphs">2830</text>
<text transform="translate(387.2 158.8) rotate(-90)" text-anchor="middle" font-size="10.1" fill="#2a2a2a" textLength="18.81" lengthAdjust="spacingAndGlyphs">1200</text>
<text transform="translate(387.4 211.5) rotate(-90)" text-anchor="middle" font-size="10.1" fill="#2a2a2a" textLength="14.85" lengthAdjust="spacingAndGlyphs">460</text>
<text transform="translate(346.1 316.7) rotate(-90)" text-anchor="middle" font-size="10.1" fill="#2a2a2a" textLength="13.86" lengthAdjust="spacingAndGlyphs">100</text>
<text transform="translate(346 426.7) rotate(-90)" text-anchor="middle" font-size="10.1" fill="#2a2a2a" textLength="19.8" lengthAdjust="spacingAndGlyphs">3750</text>
<text transform="translate(458.5 179.3) rotate(-90)" text-anchor="middle" font-size="10.1" fill="#2a2a2a" textLength="18.81" lengthAdjust="spacingAndGlyphs">1850</text>
<text transform="translate(619.4 178.5) rotate(-90)" text-anchor="middle" font-size="10.1" fill="#2a2a2a" textLength="18.81" lengthAdjust="spacingAndGlyphs">1850</text>
<text transform="translate(458.8 261.5) rotate(-90)" text-anchor="middle" font-size="10.1" fill="#2a2a2a" textLength="18.81" lengthAdjust="spacingAndGlyphs">1450</text>
<text transform="translate(428.2 307.5) rotate(-90)" text-anchor="middle" font-size="10.1" fill="#2a2a2a" textLength="18.81" lengthAdjust="spacingAndGlyphs">1330</text>
<text transform="translate(509.7 322.7) rotate(-90)" text-anchor="middle" font-size="10.1" fill="#2a2a2a" textLength="13.86" lengthAdjust="spacingAndGlyphs">160</text>
<text transform="translate(620 278.5) rotate(-90)" text-anchor="middle" font-size="10.1" fill="#2a2a2a" textLength="18.81" lengthAdjust="spacingAndGlyphs">1290</text>
<text transform="translate(620 334.1) rotate(-90)" text-anchor="middle" font-size="10.1" fill="#2a2a2a" textLength="14.85" lengthAdjust="spacingAndGlyphs">460</text>
<text transform="translate(619 475.4) rotate(-90)" text-anchor="middle" font-size="10.1" fill="#2a2a2a" textLength="19.8" lengthAdjust="spacingAndGlyphs">4000</text>
<text transform="translate(619.4 618.5) rotate(-90)" text-anchor="middle" font-size="10.1" fill="#2a2a2a" textLength="14.85" lengthAdjust="spacingAndGlyphs">450</text>
<text transform="translate(805.2 105.2) rotate(-90)" text-anchor="middle" font-size="10.1" fill="#2a2a2a" textLength="14.85" lengthAdjust="spacingAndGlyphs">450</text>
<text transform="translate(805.3 193) rotate(-90)" text-anchor="middle" font-size="10.1" fill="#2a2a2a" textLength="19.8" lengthAdjust="spacingAndGlyphs">2340</text>
<text transform="translate(805.2 257.8) rotate(-90)" text-anchor="middle" font-size="10.1" fill="#2a2a2a" textLength="14.85" lengthAdjust="spacingAndGlyphs">350</text>
<text transform="translate(804.8 410.5) rotate(-90)" text-anchor="middle" font-size="10.1" fill="#2a2a2a" textLength="18.81" lengthAdjust="spacingAndGlyphs">4190</text>
<text transform="translate(888.2 206.4) rotate(-90)" text-anchor="middle" font-size="10.1" fill="#2a2a2a" textLength="19.8" lengthAdjust="spacingAndGlyphs">3640</text>
<text transform="translate(888.2 356.3) rotate(-90)" text-anchor="middle" font-size="10.1" fill="#2a2a2a" textLength="17.82" lengthAdjust="spacingAndGlyphs">1100</text>
<text transform="translate(901.6 356.7) rotate(-90)" text-anchor="middle" font-size="10.1" fill="#2a2a2a" textLength="44.05" lengthAdjust="spacingAndGlyphs">1300 (720)</text>
<text transform="translate(888.3 511.1) rotate(-90)" text-anchor="middle" font-size="10.1" fill="#2a2a2a" textLength="19.8" lengthAdjust="spacingAndGlyphs">3760</text>
<text x="351.5" y="187.7" font-size="12.3" fill="#2a2a2a" textLength="26.3" lengthAdjust="spacingAndGlyphs">2.04</text>
<text x="572" y="168.2" font-size="12.3" fill="#2a2a2a" textLength="25" lengthAdjust="spacingAndGlyphs">2.01</text>
<text x="651" y="179.6" font-size="12.3" fill="#2a2a2a" textLength="27" lengthAdjust="spacingAndGlyphs">2.08</text>
<text x="720.8" y="178.1" font-size="12.3" fill="#2a2a2a" textLength="26" lengthAdjust="spacingAndGlyphs">2.09</text>
<text x="550.5" y="278.2" font-size="12.3" fill="#2a2a2a" textLength="25.9" lengthAdjust="spacingAndGlyphs">2.02</text>
<text x="695.1" y="271.8" font-size="12.3" fill="#2a2a2a" textLength="26" lengthAdjust="spacingAndGlyphs">2.07</text>
<text x="374.9" y="421.2" font-size="12.3" fill="#2a2a2a" textLength="25.9" lengthAdjust="spacingAndGlyphs">2.03</text>
<text x="564.8" y="475.2" font-size="12.3" fill="#2a2a2a" textLength="26.4" lengthAdjust="spacingAndGlyphs">2.05</text>
<text x="753.2" y="428.8" font-size="12.3" fill="#2a2a2a" textLength="26.8" lengthAdjust="spacingAndGlyphs">2.06</text>
<g stroke="#2a2a2a" fill="none">
<path d="M469.7 13.3 L483 17.4 L469.7 21.5 M474.5 14.8 L474.5 20" stroke-width="1.1"/>
<path d="M467.4 27.1 L485.2 27.1 M480 23.8 L485.2 27.1 L480 30.4" stroke-width="0.9" stroke="#555"/>
<path d="M485.7 23.7 L485.7 31.1 M485.7 38.8 L485.7 46.3" stroke-width="1.6" stroke="#1a1a1a"/>
<path d="M409.4 697.7 L409.4 705.6 M409.4 713 L409.4 720.7" stroke-width="1.6" stroke="#1a1a1a"/>
<path d="M391.9 718.5 L408.9 718.5 M403.7 715.2 L408.9 718.5 L403.7 721.5" stroke-width="0.9" stroke="#555"/>
<path d="M393.1 724.1 L406 728.2 L393.1 732.3 M397.8 725.6 L397.8 730.8" stroke-width="1.1"/>
<path d="M402.3 734.8 L406.7 734.8" stroke-width="1.4" stroke="#1a1a1a"/>
</g>
<circle cx="847.7" cy="761" r="32.2" stroke="#444" stroke-width="0.9" fill="none"/>
<path d="M847.7 761.2 L817.5 742.5" stroke="#111" stroke-width="2" stroke-linecap="round"/>
<text x="796.2" y="739.7" font-size="18" fill="#777" textLength="10.5" lengthAdjust="spacingAndGlyphs">S</text>
</g>
<g id="panel">
<text x="1027.6" y="28.9" font-size="16.2" fill="#1c1c1c" textLength="146.3" lengthAdjust="spacingAndGlyphs" stroke="#333" stroke-width="0.2">TABULKA MÍSTNOSTÍ:</text>
<path d="M1005.3 37.9 L1274.6 37.3" stroke="#333" stroke-width="1" fill="none"/>
<path d="M1005.3 69.7 L1274.6 69.1" stroke="#333" stroke-width="1" fill="none"/>
<path d="M1005.3 73 L1274.6 72.4" stroke="#333" stroke-width="1" fill="none"/>
<path d="M1005.3 94.3 L1274.6 93.7" stroke="#333" stroke-width="1" fill="none"/>
<path d="M1005.3 114.7 L1274.6 114.1" stroke="#333" stroke-width="1" fill="none"/>
<path d="M1005.3 135.4 L1274.6 134.8" stroke="#333" stroke-width="1" fill="none"/>
<path d="M1005.3 155.9 L1274.6 155.3" stroke="#333" stroke-width="1" fill="none"/>
<path d="M1005.3 176.9 L1274.6 176.3" stroke="#333" stroke-width="1" fill="none"/>
<path d="M1005.3 197.3 L1274.6 196.7" stroke="#333" stroke-width="1" fill="none"/>
<path d="M1005.3 218.2 L1274.6 217.6" stroke="#333" stroke-width="1" fill="none"/>
<path d="M1005.3 238.9 L1274.6 238.3" stroke="#333" stroke-width="1" fill="none"/>
<path d="M1005.3 259.6 L1274.6 259" stroke="#333" stroke-width="1" fill="none"/>
<path d="M1005.3 37.6 L1005.3 259.6" stroke="#333" stroke-width="1" fill="none"/>
<path d="M1072.2 37.6 L1072.2 259.6" stroke="#333" stroke-width="1" fill="none"/>
<path d="M1228.4 37.6 L1228.4 259.6" stroke="#333" stroke-width="1" fill="none"/>
<path d="M1274.6 37.6 L1274.6 259.6" stroke="#333" stroke-width="1" fill="none"/>
<text x="1038.3" y="53.4" text-anchor="middle" font-size="11" fill="#222" textLength="27" lengthAdjust="spacingAndGlyphs">Číslo</text>
<text x="1038.6" y="63.5" text-anchor="middle" font-size="11" fill="#222" textLength="46" lengthAdjust="spacingAndGlyphs">místnosti</text>
<text x="1135" y="53.4" text-anchor="middle" font-size="11" fill="#2a2a2a" textLength="23.5" lengthAdjust="spacingAndGlyphs"><tspan fill="#aaa">Ú</tspan>čel</text>
<text x="1135" y="63.5" text-anchor="middle" font-size="11" fill="#2a2a2a" textLength="46" lengthAdjust="spacingAndGlyphs">m<tspan fill="#bbb">ístn</tspan>os<tspan fill="#bbb">ti</tspan></text>
<text x="1251.3" y="53" text-anchor="middle" font-size="11" fill="#333" textLength="35" lengthAdjust="spacingAndGlyphs">P<tspan fill="#aaa">l</tspan>o<tspan fill="#888">c</tspan>h<tspan fill="#999">a</tspan></text>
<text x="1251.3" y="63.3" text-anchor="middle" font-size="11" fill="#333" textLength="19.5" lengthAdjust="spacingAndGlyphs">[<tspan fill="#b5b5b5">m²</tspan>]</text>
<text x="1038.2" y="89" text-anchor="middle" font-size="12.4" fill="#2a2a2a" textLength="25.5" lengthAdjust="spacingAndGlyphs">2.01</text>
<text x="1079.8" y="89" font-size="12.2" fill="#222" textLength="57.5" lengthAdjust="spacingAndGlyphs">schodi<tspan fill="#8a8a8a">ště</tspan></text>
<text x="1267" y="89" text-anchor="end" font-size="12.4" fill="#888" textLength="27" lengthAdjust="spacingAndGlyphs">4,34</text>
<text x="1038.2" y="109.4" text-anchor="middle" font-size="12.4" fill="#2a2a2a" textLength="25.5" lengthAdjust="spacingAndGlyphs">2.02</text>
<text x="1079.8" y="109.4" font-size="12.2" fill="#222" textLength="44" lengthAdjust="spacingAndGlyphs">chodba</text>
<text x="1267" y="109.4" text-anchor="end" font-size="12.4" fill="#2a2a2a" textLength="27" lengthAdjust="spacingAndGlyphs">5,22</text>
<text x="1038.2" y="130.1" text-anchor="middle" font-size="12.4" fill="#2a2a2a" textLength="25.5" lengthAdjust="spacingAndGlyphs">2.03</text>
<text x="1079.8" y="130.1" font-size="12.2" fill="#222" textLength="41.5" lengthAdjust="spacingAndGlyphs">kuchyň</text>
<text x="1267" y="130.1" text-anchor="end" font-size="12.4" fill="#2a2a2a" textLength="27" lengthAdjust="spacingAndGlyphs">7,42</text>
<text x="1038.2" y="150.6" text-anchor="middle" font-size="12.4" fill="#2a2a2a" textLength="25.5" lengthAdjust="spacingAndGlyphs">2.04</text>
<text x="1079.8" y="150.6" font-size="12.2" fill="#222" textLength="53.5" lengthAdjust="spacingAndGlyphs">koupelna</text>
<text x="1267" y="150.6" text-anchor="end" font-size="12.4" fill="#2a2a2a" textLength="27" lengthAdjust="spacingAndGlyphs">4,62</text>
<text x="1038.2" y="171.6" text-anchor="middle" font-size="12.4" fill="#2a2a2a" textLength="25.5" lengthAdjust="spacingAndGlyphs">2.05</text>
<text x="1079.8" y="171.6" font-size="12.2" fill="#222" textLength="32.5" lengthAdjust="spacingAndGlyphs">pokoj</text>
<text x="1267" y="171.6" text-anchor="end" font-size="12.4" fill="#2a2a2a" textLength="34" lengthAdjust="spacingAndGlyphs">14,08</text>
<text x="1038.2" y="192" text-anchor="middle" font-size="12.4" fill="#2a2a2a" textLength="25.5" lengthAdjust="spacingAndGlyphs">2.06</text>
<text x="1079.8" y="192" font-size="12.2" fill="#222" textLength="32.5" lengthAdjust="spacingAndGlyphs">pokoj</text>
<text x="1267" y="192" text-anchor="end" font-size="12.4" fill="#2a2a2a" textLength="27" lengthAdjust="spacingAndGlyphs">8,32</text>
<text x="1038.2" y="212.9" text-anchor="middle" font-size="12.4" fill="#2a2a2a" textLength="25.5" lengthAdjust="spacingAndGlyphs">2.07</text>
<text x="1079.8" y="212.9" font-size="12.2" fill="#222" textLength="44" lengthAdjust="spacingAndGlyphs">chodba</text>
<text x="1267" y="212.9" text-anchor="end" font-size="12.4" fill="#2a2a2a" textLength="27" lengthAdjust="spacingAndGlyphs">0,74</text>
<text x="1038.2" y="233.6" text-anchor="middle" font-size="12.4" fill="#2a2a2a" textLength="25.5" lengthAdjust="spacingAndGlyphs">2.08</text>
<text x="1079.8" y="233.6" font-size="12.2" fill="#222" textLength="24.5" lengthAdjust="spacingAndGlyphs">spíž</text>
<text x="1267" y="233.6" text-anchor="end" font-size="12.4" fill="#2a2a2a" textLength="27" lengthAdjust="spacingAndGlyphs">1,24</text>
<text x="1038.2" y="254.3" text-anchor="middle" font-size="12.4" fill="#2a2a2a" textLength="25.5" lengthAdjust="spacingAndGlyphs">2.09</text>
<text x="1079.8" y="254.3" font-size="12.2" fill="#222" textLength="29" lengthAdjust="spacingAndGlyphs">půda</text>
<text x="1267" y="254.3" text-anchor="end" font-size="12.4" fill="#2a2a2a" textLength="27" lengthAdjust="spacingAndGlyphs">4,56</text>
<rect x="1121" y="68" width="12.7" height="6.5" fill="#fff" opacity="0.55"/>
<rect x="1153.4" y="68" width="12.6" height="6.5" fill="#fff" opacity="0.55"/>
<rect x="1174.5" y="68" width="12.6" height="6.5" fill="#fff" opacity="0.55"/>
<rect x="1222.3" y="68" width="5.1" height="6.5" fill="#fff" opacity="0.55"/>
<rect x="1247.6" y="68" width="11.2" height="6.5" fill="#fff" opacity="0.55"/>
<rect x="1135" y="92.5" width="31" height="3" fill="#fff" opacity="0.5"/>
<rect x="1184" y="92.5" width="42.5" height="3" fill="#fff" opacity="0.5"/>
<rect x="1235" y="92.5" width="30.8" height="3" fill="#fff" opacity="0.5"/>
<text x="1006" y="301.6" font-size="16.2" fill="#1c1c1c" textLength="113.4" lengthAdjust="spacingAndGlyphs" stroke="#333" stroke-width="0.2">LEGENDA ŠRAF:</text>
<rect x="1007.2" y="319.2" width="42.2" height="18" stroke="#151515" stroke-width="1.6" fill="none"/>
<text x="1066.7" y="331.3" font-size="12.2" fill="#1c1c1c" textLength="53.2" lengthAdjust="spacingAndGlyphs" stroke="#222" stroke-width="0.4">STÁVAJÍCÍ</text>
<text x="1129.4" y="331.3" font-size="12.2" fill="#1c1c1c" textLength="77.4" lengthAdjust="spacingAndGlyphs" stroke="#222" stroke-width="0.4">KONSTRUKCE</text>
<path d="M1004.9 411.6 L1288 410.5" stroke="#3a3a3a" stroke-width="1.2" fill="none"/>
<path d="M1004.9 460.6 L1288 459.5" stroke="#3a3a3a" stroke-width="1.2" fill="none"/>
<path d="M1004.9 489.7 L1288 488.6" stroke="#3a3a3a" stroke-width="1.2" fill="none"/>
<path d="M1004.9 511.3 L1288 510.2" stroke="#3a3a3a" stroke-width="1.2" fill="none"/>
<path d="M1004.9 540.2 L1288 539.1" stroke="#3a3a3a" stroke-width="1.2" fill="none"/>
<path d="M1004.9 607.2 L1288 606.1" stroke="#3a3a3a" stroke-width="1.2" fill="none"/>
<path d="M1004.9 625.7 L1288 624.6" stroke="#3a3a3a" stroke-width="1.2" fill="none"/>
<path d="M1004.9 647.5 L1288 646.4" stroke="#3a3a3a" stroke-width="1.2" fill="none"/>
<path d="M1004.9 679.1 L1288 678" stroke="#3a3a3a" stroke-width="1.2" fill="none"/>
<path d="M1004.9 696.9 L1288 695.8" stroke="#3a3a3a" stroke-width="1.2" fill="none"/>
<path d="M1004.9 715.8 L1288 714.7" stroke="#3a3a3a" stroke-width="1.2" fill="none"/>
<path d="M1004.9 735.1 L1288 734" stroke="#3a3a3a" stroke-width="1.2" fill="none"/>
<path d="M1004.9 756.4 L1288 755.3" stroke="#3a3a3a" stroke-width="1.2" fill="none"/>
<text x="1005.6" y="426" font-size="12.1" fill="#222" textLength="33.4" lengthAdjust="spacingAndGlyphs" stroke="#333" stroke-width="0.25">Stavba</text>
<text x="1005.6" y="474.9" font-size="12.1" fill="#222" textLength="37.8" lengthAdjust="spacingAndGlyphs" stroke="#333" stroke-width="0.25">Investor</text>
<text x="1005.6" y="504.2" font-size="12.1" fill="#222" textLength="53.3" lengthAdjust="spacingAndGlyphs" stroke="#333" stroke-width="0.25">Č. Zakázky</text>
<text x="1005.6" y="527" font-size="12.8" fill="#222" textLength="106.7" lengthAdjust="spacingAndGlyphs" stroke="#333" stroke-width="0.25">Účel dokumentace</text>
<text x="1005.6" y="554.5" font-size="12.1" fill="#222" textLength="55.6" lengthAdjust="spacingAndGlyphs" stroke="#333" stroke-width="0.25">Zpracovatel</text>
<text x="1005.6" y="620.4" font-size="12.1" fill="#222" textLength="52.3" lengthAdjust="spacingAndGlyphs" stroke="#333" stroke-width="0.25">Vypracoval</text>
<text x="1005.6" y="641.1" font-size="12.1" fill="#222" textLength="36" lengthAdjust="spacingAndGlyphs" stroke="#333" stroke-width="0.25">Kontakt</text>
<text x="1005.6" y="661.6" font-size="12.1" fill="#222" textLength="71.2" lengthAdjust="spacingAndGlyphs" stroke="#333" stroke-width="0.25">Zod. projektant</text>
<text x="1005.6" y="690.5" font-size="12.1" fill="#222" textLength="32.3" lengthAdjust="spacingAndGlyphs" stroke="#333" stroke-width="0.25">Výkres</text>
<text x="1005.6" y="710.5" font-size="12.1" fill="#222" textLength="35.1" lengthAdjust="spacingAndGlyphs" stroke="#333" stroke-width="0.25">Měřítko</text>
<text x="1005.6" y="729.6" font-size="12.1" fill="#222" textLength="32.9" lengthAdjust="spacingAndGlyphs" stroke="#333" stroke-width="0.25">Formát</text>
<text x="1005.6" y="750.1" font-size="12.1" fill="#222" textLength="31.1" lengthAdjust="spacingAndGlyphs" stroke="#333" stroke-width="0.25">Datum</text>
<text x="1133.9" y="426.5" font-size="12.3" fill="#262626" textLength="112.3" lengthAdjust="spacingAndGlyphs" stroke="#333" stroke-width="0.25">RD Budějovická 141</text>
<text x="1133.9" y="436.3" font-size="8" fill="#444" textLength="148.5" lengthAdjust="spacingAndGlyphs">Budějovická 141, Jesenice - Horní Jirčany, 252 42</text>
<text x="1133.9" y="445.9" font-size="8" fill="#444" textLength="97.8" lengthAdjust="spacingAndGlyphs">kat. území: Horní Jirčany 658600</text>
<text x="1133.9" y="455.4" font-size="8" fill="#444" textLength="46.2" lengthAdjust="spacingAndGlyphs">parc. č. st. 44/2</text>
<text x="1133.9" y="473.2" font-size="9.6" fill="#333" textLength="70" lengthAdjust="spacingAndGlyphs">Josef Kostelecký,</text>
<text x="1206.1" y="472.4" font-size="4.3" fill="#555" textLength="79" lengthAdjust="spacingAndGlyphs">Wassermannova 929/20,15200 Praha 5</text>
<text x="1133.9" y="483.7" font-size="9.6" fill="#333" textLength="71.1" lengthAdjust="spacingAndGlyphs">Markéta Hybšová,</text>
<text x="1207.2" y="482.9" font-size="4.3" fill="#555" textLength="76.8" lengthAdjust="spacingAndGlyphs">Čs. armády 227, 25401 Jílové u Prahy</text>
<text x="1133.9" y="500.8" font-size="9.6" fill="#333" textLength="140.5" lengthAdjust="spacingAndGlyphs">OP-25-0137, RD Budějovická 141</text>
<text x="1133.9" y="528.8" font-size="9.3" fill="#333" textLength="60.7" lengthAdjust="spacingAndGlyphs">pasport stavby</text>
<text x="1133.9" y="554.4" font-size="12.3" fill="#262626" textLength="77.4" lengthAdjust="spacingAndGlyphs" stroke="#333" stroke-width="0.25">Consultora s.r.o.</text>
<text x="1133.9" y="567.1" font-size="9.4" fill="#3a3a3a" textLength="94.5" lengthAdjust="spacingAndGlyphs">Litvinovská 609/3, Praha 9</text>
<text x="1133.9" y="578.9" font-size="9.4" fill="#3a3a3a" textLength="58.5" lengthAdjust="spacingAndGlyphs">IČO: 254 003 39</text>
<text x="1133.9" y="589.9" font-size="9.4" fill="#3a3a3a" textLength="67.8" lengthAdjust="spacingAndGlyphs">info@consultora.cz</text>
<text x="1133.9" y="601.4" font-size="9.4" fill="#3a3a3a" textLength="67.1" lengthAdjust="spacingAndGlyphs">www.consultora.cz</text>
<text x="1133.9" y="619.7" font-size="12.08" fill="#262626" textLength="115.2" lengthAdjust="spacingAndGlyphs" stroke="#333" stroke-width="0.25">Ing. Petra Kozáková</text>
<text x="1133.9" y="638.8" font-size="10" fill="#2e2e2e" textLength="156" lengthAdjust="spacingAndGlyphs">petra.kozakova@consultora.cz</text>
<text x="1133.9" y="659.3" font-size="11.45" fill="#262626" textLength="72.9" lengthAdjust="spacingAndGlyphs" stroke="#333" stroke-width="0.25">Ing.Jiří Ouda</text>
<text x="1133.9" y="672.6" font-size="11.45" fill="#262626" textLength="84.5" lengthAdjust="spacingAndGlyphs" stroke="#333" stroke-width="0.25">ČKAIT 600399</text>
<text x="1133.9" y="691" font-size="11.45" fill="#262626" textLength="78.9" lengthAdjust="spacingAndGlyphs" stroke="#333" stroke-width="0.25">Půdorys 2.NP</text>
<text x="1133.9" y="710.8" font-size="11.45" fill="#262626" textLength="23.8" lengthAdjust="spacingAndGlyphs" stroke="#333" stroke-width="0.25">1:50</text>
<text x="1133.9" y="729.5" font-size="11.45" fill="#262626" textLength="15.5" lengthAdjust="spacingAndGlyphs" stroke="#333" stroke-width="0.25">A3</text>
<text x="1133.9" y="749.5" font-size="11.45" fill="#262626" textLength="46" lengthAdjust="spacingAndGlyphs" stroke="#333" stroke-width="0.25">10/2025</text>
<text x="1203.7" y="780.9" font-size="21.3" fill="#222" textLength="34.7" lengthAdjust="spacingAndGlyphs" stroke="#333" stroke-width="0.25">D.3</text>
<path d="M1190.2 784 L1190.2 790.7 L1288.4 790.2" stroke="#333" stroke-width="1.1" fill="none"/>
</g>
</svg>
</body></html>
